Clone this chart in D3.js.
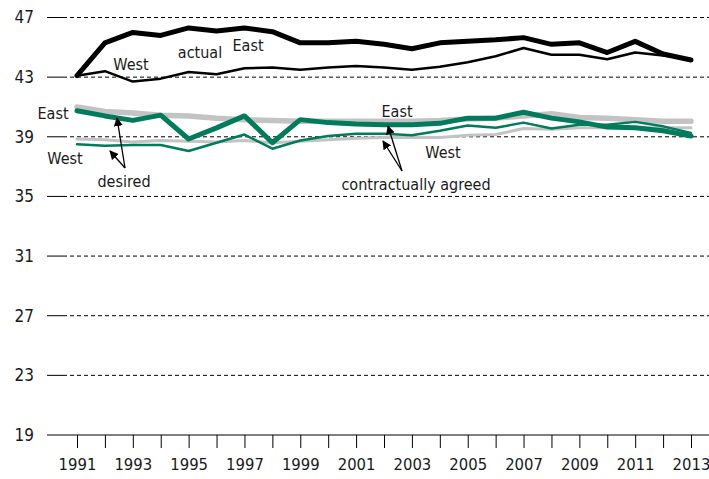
<!DOCTYPE html>
<html>
<head>
<meta charset="utf-8">
<script src="https://cdn.jsdelivr.net/npm/d3@7"></script>
<style>
  body { margin: 0; background: #fff; }
  text { font-family: "Liberation Sans Narrow", "DejaVu Sans Condensed", sans-serif; fill: #1a1a1a; }
</style>
</head>
<body>
<div id="graph"></div>
<script>
const width = 709;
const height = 479;

const years = d3.range(1991, 2014);
const yTicks = [19, 23, 27, 31, 35, 39, 43, 47];

// actual working hours
const actualEast = [43.1, 45.3, 46.0, 45.8, 46.3, 46.1, 46.3, 46.05, 45.3, 45.3, 45.4, 45.2, 44.9, 45.3, 45.4, 45.5, 45.65, 45.2, 45.3, 44.65, 45.4, 44.55, 44.15];
const actualWest = [43.1, 43.4, 42.7, 42.9, 43.35, 43.2, 43.6, 43.65, 43.5, 43.65, 43.75, 43.65, 43.5, 43.7, 44.0, 44.4, 44.95, 44.5, 44.5, 44.2, 44.65, 44.45, 44.2];
// desired
const desiredEast = [40.75, 40.4, 40.1, 40.45, 38.85, 39.6, 40.4, 38.6, 40.15, 39.95, 39.85, 39.8, 39.8, 39.9, 40.25, 40.25, 40.65, 40.25, 40.0, 39.65, 39.6, 39.4, 39.05];
const desiredWest = [38.5, 38.4, 38.45, 38.45, 38.05, 38.6, 39.15, 38.2, 38.75, 39.05, 39.2, 39.2, 39.1, 39.4, 39.75, 39.6, 39.95, 39.55, 39.8, 39.8, 40.0, 39.7, 39.25];
// contractually agreed
const agreedEast = [41.0, 40.7, 40.6, 40.45, 40.4, 40.25, 40.15, 40.1, 40.05, 40.05, 40.05, 40.05, 40.05, 40.1, 40.2, 40.25, 40.4, 40.55, 40.3, 40.25, 40.15, 40.05, 40.05];
const agreedWest = [38.85, 38.8, 38.65, 38.75, 38.7, 38.65, 38.75, 38.6, 38.7, 38.8, 38.9, 38.95, 38.95, 38.95, 39.1, 39.15, 39.55, 39.5, 39.6, 39.6, 39.6, 39.6, 39.6];

const BLACK = "#000000";
const GREEN = "#007b5b";
const GRAY = "#c3c3c3";

const svg = d3.select("#graph").append("svg")
  .attr("width", width).attr("height", height);

const x = d3.scaleLinear().domain([1991, 2013]).range([77, 691]);
const y = d3.scaleLinear().domain([19, 47]).range([435, 17.5]);

// gridlines
const grid = svg.append("g");
yTicks.forEach(v => {
  if (v === 19) {
    grid.append("line").attr("x1", 47).attr("x2", width).attr("y1", y(v)).attr("y2", y(v))
      .attr("stroke", "#000").attr("stroke-width", 1);
  } else {
    grid.append("line").attr("x1", 63).attr("x2", width).attr("y1", y(v)).attr("y2", y(v))
      .attr("stroke", "#000").attr("stroke-width", 1).attr("stroke-dasharray", "4,3");
    grid.append("line").attr("x1", 47).attr("x2", 63).attr("y1", y(v)).attr("y2", y(v))
      .attr("stroke", "#000").attr("stroke-width", 1);
  }
  grid.append("text").attr("x", 34).attr("y", y(v)).attr("dy", "0.35em")
    .attr("text-anchor", "end").attr("font-size", 17).text(v);
});

// x axis
const xAxis = svg.append("g").attr("transform", `translate(0,${y(19)})`)
  .call(d3.axisBottom(x).tickValues(years).tickSize(13).tickPadding(10)
    .tickFormat(d => (d % 2 === 1 ? d : "")));
xAxis.select(".domain").remove();
xAxis.selectAll("line").attr("stroke", "#000");
xAxis.selectAll("text").attr("font-size", 16.5).attr("fill", "#1a1a1a")
  .style("font-family", "'Liberation Sans Narrow', 'DejaVu Sans Condensed', sans-serif");

const line = d3.line().x((d, i) => x(years[i])).y(d => y(d));

function series(data, color, w) {
  svg.append("path").datum(data).attr("fill", "none").attr("stroke", color)
    .attr("stroke-width", w).attr("stroke-linejoin", "round").attr("stroke-linecap", "round")
    .attr("d", line);
}

series(agreedWest, GRAY, 3);
series(agreedEast, GRAY, 5.5);
series(desiredWest, GREEN, 2.5);
series(desiredEast, GREEN, 5);
series(actualWest, BLACK, 2.5);
series(actualEast, BLACK, 5);

// arrows
svg.append("defs").append("marker").attr("id", "arr")
  .attr("viewBox", "0 0 10 10").attr("refX", 9).attr("refY", 5)
  .attr("markerWidth", 9).attr("markerHeight", 9).attr("orient", "auto")
  .attr("markerUnits", "userSpaceOnUse")
  .append("path").attr("d", "M0,0 L10,5 L0,10 z").attr("fill", "#000");

function arrow(x1, y1, x2, y2) {
  svg.append("line").attr("x1", x1).attr("y1", y1).attr("x2", x2).attr("y2", y2)
    .attr("stroke", "#000").attr("stroke-width", 1.3).attr("marker-end", "url(#arr)");
}
arrow(125, 168, 117, 118);
arrow(125, 168, 110, 151);
arrow(402, 171, 388, 126);
arrow(402, 171, 383, 141);

// labels
function label(tx, ty, s, anchor) {
  svg.append("text").attr("x", tx).attr("y", ty).attr("dy", "0.35em")
    .attr("text-anchor", anchor || "middle").attr("font-size", 16).text(s);
}
label(200, 52, "actual");
label(248, 45, "East");
label(131, 64, "West");
label(53, 113, "East");
label(65, 158, "West");
label(124, 181, "desired");
label(416, 184, "contractually agreed");
label(397, 111, "East");
label(443, 152, "West");
</script>
</body>
</html>
